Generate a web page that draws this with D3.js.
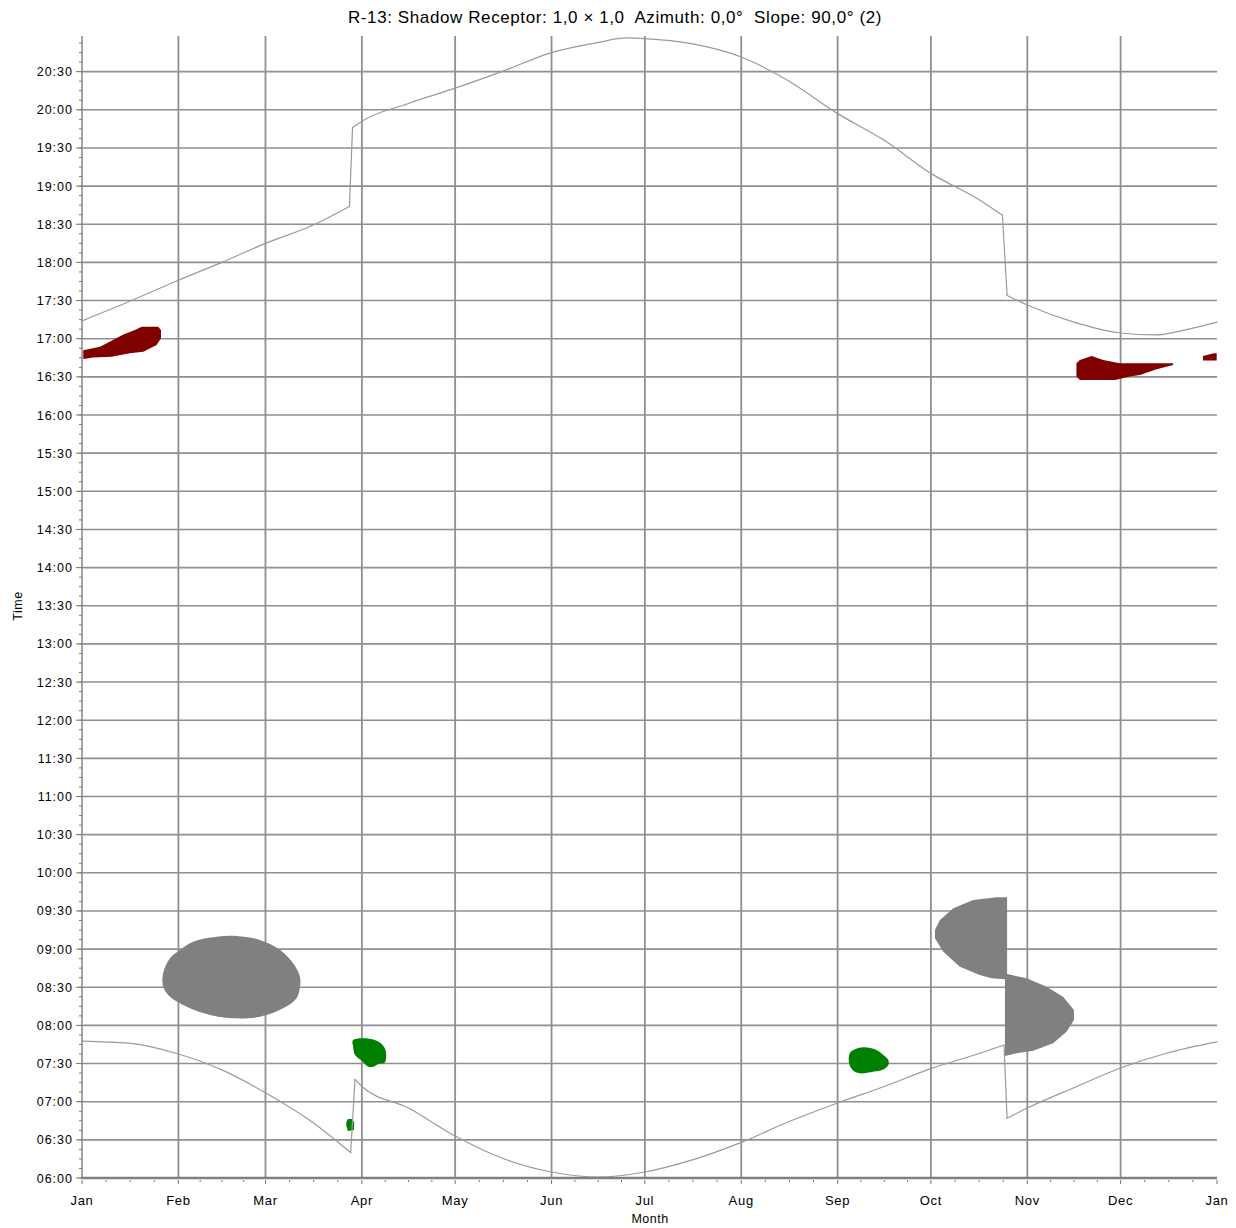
<!DOCTYPE html>
<html>
<head>
<meta charset="utf-8">
<script src="https://cdn.jsdelivr.net/npm/d3@7"></script>
<style>
  html, body { margin: 0; padding: 0; background: #fff; }
  svg { display: block; }
  text { font-family: "Liberation Sans", Arial, sans-serif; fill: #000; white-space: pre; }
</style>
</head>
<body>
<script>
// ---- data (day of year, minutes after midnight) ----
const monthLabels = ["Jan","Feb","Mar","Apr","May","Jun","Jul","Aug","Sep","Oct","Nov","Dec","Jan"];
const monthStartDays = [0,31,59,90,120,151,181,212,243,273,304,334,365];
const timeTicks = d3.range(360, 1231, 30);   // 06:00 .. 20:30

// sun set line (local time, summer-time jumps included)
const sunsetDays = [0,15,31,45,59,74,86,87,90,105,120,135,151,166,175,181,196,212,227,243,258,273,288,296,297.5,304,319,334,345,355,365];
const sunsetMins = [1034,1049,1066,1080,1095,1109,1124,1186,1191,1205,1217,1230,1245,1253,1256.5,1256,1252,1241.5,1223,1197,1176,1150,1130,1117,1054,1046.5,1033,1024.5,1023,1027,1033];

// sun rise line
const sunriseDays = [0,15,31,45,59,74,86.4,87.8,90,105,120,135,151,166,181,196,212,227,243,258,273,288,296.5,297.5,304,319,334,349,365];
const sunriseMins = [467.7,466,457.5,445,427,404,380,437.6,432,415,393,375.7,364.7,360.8,364.7,374,388,404,419,432,446,457.5,464.6,407,415,431,446.5,458.3,467];

// shadow periods: outline polygons [day, minutes]
const shadowRedJan = [[0.4,1004.6],[0.4,1011],[5.8,1013.7],[9.5,1018.4],[13.3,1023.4],[17.0,1026.8],[19.2,1029.4],[24.5,1029.4],[25.4,1026.8],[25.4,1020.3],[24.0,1015],[19.7,1009.7],[15.4,1008.5],[9.5,1005.8],[3.6,1005.3],[0.4,1004]];
const shadowRedDec = [[319.8,1000.6],[320.9,1003.2],[324.7,1006.3],[328.4,1003.2],[333.8,1000.6],[350.9,1000.6],[350.9,999.3],[345.6,995.9],[340.2,991.4],[337.0,990.2],[332.2,987.5],[320.9,987.5],[319.8,990.2]];
const shadowRedEnd = [[360.5,1006.3],[364.0,1008.6],[364.9,1008.6],[364.9,1002.8],[360.5,1002.8]];
const shadowGreyFeb = [[26.1,521.0],[28.3,532.8],[31.5,539.3],[35.8,545.8],[43.3,549.7],[49.7,550.3],[57.2,547.2],[63.7,539.3],[67.9,528.8],[70.1,518.3],[70.1,510.4],[69.0,501.3],[64.7,493.4],[57.2,486.8],[48.6,485.6],[41.2,488.2],[33.7,494.7],[28.3,502.6],[26.1,510.4]];
const shadowGreyOct = [[297.5,580.7],[297.5,520.4],[303.8,517.0],[310.2,510.4],[315.5,502.6],[319.0,492.1],[319.0,484.2],[316.6,475.0],[312.3,465.9],[305.9,460.1],[300.5,458.1],[296.8,455.9],[296.8,516.2],[292.5,517.0],[288.7,519.6],[282.3,526.2],[276.9,538.1],[274.3,548.6],[274.3,555.1],[275.9,562.9],[280.2,572.1],[286.6,578.6],[294.1,580.7]];
const shadowGreenApr = [[87.2,468.5],[94.2,468.5],[97.4,462.0],[97.4,450.8],[95.3,449.6],[93.7,447.5],[92.1,447.5],[89.9,452.4],[87.8,456.7],[87.2,463.2]];
const shadowGreenMar = [[85.5,406.4],[86.8,406.4],[87.5,404.0],[87.5,397.7],[85.5,396.9],[85.0,400.9],[85.0,404.0]];
const shadowGreenSep = [[246.9,458.1],[248.6,461.2],[251.2,462.8],[255.0,461.2],[257.7,456.7],[259.3,452.8],[259.3,448.8],[257.7,445.4],[254.4,443.6],[250.1,442.3],[247.8,444.9],[246.7,450.2]];

const titleText = "R-13: Shadow Receptor: 1,0 \u00d7 1,0  Azimuth: 0,0\u00b0  Slope: 90,0\u00b0 (2)";

// ---- layout ----
const W = 1236, H = 1228;
const plotLeft = 82, plotRight = 1217, plotTop = 36, plotBottom = 1178;

const svg = d3.select("body").append("svg").attr("width", W).attr("height", H);

const x = d3.scaleLinear().domain([0, 365]).range([plotLeft, plotRight]);
const y = d3.scaleLinear().domain([360, 1260]).range([plotBottom, 33.5]);

const gridColor = "#8f8f8f";

// horizontal grid
svg.append("g").selectAll("line").data(timeTicks.slice(1)).join("line")
  .attr("x1", plotLeft).attr("x2", plotRight)
  .attr("y1", d => y(d)).attr("y2", d => y(d))
  .attr("stroke", gridColor).attr("stroke-width", 1.6);

// vertical grid
svg.append("g").selectAll("line").data(monthStartDays.slice(1, 12)).join("line")
  .attr("x1", d => x(d)).attr("x2", d => x(d))
  .attr("y1", plotTop).attr("y2", plotBottom)
  .attr("stroke", gridColor).attr("stroke-width", 1.8);

// shadow areas: rounded outlines, except the split October area with straight edges
const roundPoly = d3.line().x(d => x(d[0])).y(d => y(d[1])).curve(d3.curveCatmullRomClosed.alpha(0.5));
const flatPoly = d3.line().x(d => x(d[0])).y(d => y(d[1])).curve(d3.curveLinearClosed);
const shadows = [
  [shadowRedJan, "#800000", flatPoly], [shadowRedDec, "#800000", flatPoly], [shadowRedEnd, "#800000", flatPoly],
  [shadowGreyFeb, "#808080", roundPoly], [shadowGreyOct, "#808080", flatPoly],
  [shadowGreenApr, "#008000", roundPoly], [shadowGreenMar, "#008000", flatPoly], [shadowGreenSep, "#008000", roundPoly]
];
svg.append("g").selectAll("path").data(shadows).join("path")
  .attr("d", d => d[2](d[0]))
  .attr("fill", d => d[1]);

// sun rise / sun set lines: smooth runs, straight steps at the clock changes
function splitAtSteps(days, mins) {
  const pts = days.map((d, i) => [d, mins[i]]);
  const runs = [];
  let cur = [pts[0]];
  for (let i = 1; i < pts.length; i++) {
    const slope = Math.abs((pts[i][1] - pts[i - 1][1]) / (pts[i][0] - pts[i - 1][0]));
    if (slope > 10) {
      runs.push({ pts: cur, smooth: true });
      runs.push({ pts: [pts[i - 1], pts[i]], smooth: false });
      cur = [pts[i]];
    } else {
      cur.push(pts[i]);
    }
  }
  runs.push({ pts: cur, smooth: true });
  return runs;
}
const smoothLine = d3.line().x(d => x(d[0])).y(d => y(d[1])).curve(d3.curveMonotoneX);
const straightLine = d3.line().x(d => x(d[0])).y(d => y(d[1]));
const runs = splitAtSteps(sunsetDays, sunsetMins).concat(splitAtSteps(sunriseDays, sunriseMins));
svg.append("g").selectAll("path").data(runs).join("path")
  .attr("d", r => (r.smooth ? smoothLine : straightLine)(r.pts))
  .attr("fill", "none")
  .attr("stroke", "#9a9a9a").attr("stroke-width", 1.2).attr("stroke-linecap", "round");

// y axis
const fmt = m => String(Math.floor(m / 60)).padStart(2, "0") + ":" + String(m % 60).padStart(2, "0");
const yMinor = d3.range(360, 1260, 7.5);
const ga = svg.append("g");
ga.append("line").attr("x1", plotLeft).attr("x2", plotLeft).attr("y1", plotTop).attr("y2", plotBottom)
  .attr("stroke", gridColor).attr("stroke-width", 1.6);
ga.selectAll(".ymin").data(yMinor).join("line")
  .attr("x1", plotLeft - 3).attr("x2", plotLeft).attr("y1", d => y(d)).attr("y2", d => y(d))
  .attr("stroke", "#777").attr("stroke-width", 1);
ga.selectAll(".ymaj").data(timeTicks).join("line")
  .attr("x1", plotLeft - 6).attr("x2", plotLeft).attr("y1", d => y(d)).attr("y2", d => y(d))
  .attr("stroke", "#777").attr("stroke-width", 1);
ga.selectAll("text.ylab").data(timeTicks).join("text")
  .attr("class", "ylab")
  .attr("x", 73).attr("y", d => y(d)).attr("dy", "0.36em")
  .attr("text-anchor", "end").attr("font-size", 12.5).attr("letter-spacing", 1.0)
  .text(fmt);

// x axis
const xMinor = [];
for (let i = 0; i < 12; i++) {
  const a = monthStartDays[i], b = monthStartDays[i + 1];
  for (let k = 1; k < 4; k++) xMinor.push(a + (b - a) * k / 4);
}
ga.append("line").attr("x1", plotLeft).attr("x2", plotRight).attr("y1", plotBottom).attr("y2", plotBottom)
  .attr("stroke", "#808080").attr("stroke-width", 2.4);
ga.selectAll(".xmin").data(xMinor).join("line")
  .attr("x1", d => x(d)).attr("x2", d => x(d)).attr("y1", plotBottom + 2).attr("y2", plotBottom + 4)
  .attr("stroke", "#777").attr("stroke-width", 1);
ga.selectAll(".xmaj").data(monthStartDays).join("line")
  .attr("x1", d => x(d)).attr("x2", d => x(d)).attr("y1", plotBottom + 2).attr("y2", plotBottom + 6)
  .attr("stroke", "#777").attr("stroke-width", 1);
ga.selectAll("text.xlab").data(monthStartDays).join("text")
  .attr("class", "xlab")
  .attr("x", d => x(d)).attr("y", 1205)
  .attr("text-anchor", "middle").attr("font-size", 13).attr("letter-spacing", 0.7)
  .text((d, i) => monthLabels[i]);

// axis titles and title
svg.append("text").attr("x", 650).attr("y", 1223).attr("text-anchor", "middle")
  .attr("font-size", 12.5).attr("letter-spacing", 0.5).text("Month");
svg.append("text").attr("transform", "translate(22,606) rotate(-90)")
  .attr("text-anchor", "middle").attr("font-size", 12.5).attr("letter-spacing", 0.5).text("Time");
svg.append("text").attr("x", 615).attr("y", 23).attr("text-anchor", "middle")
  .attr("font-size", 17).attr("letter-spacing", 0.6).text(titleText);
</script>
</body>
</html>
